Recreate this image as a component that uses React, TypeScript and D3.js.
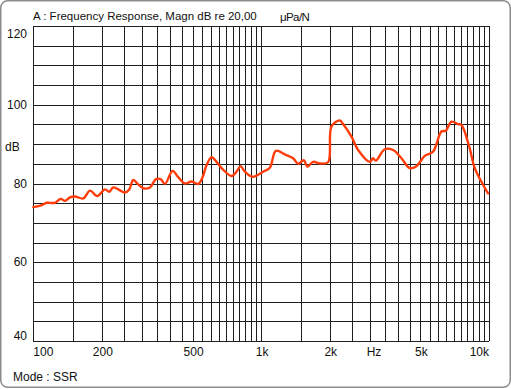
import React from "react";
import * as d3 from "d3";

const freqs = [100, 108.9, 114.5, 124.5, 131.9, 137.7, 144.9, 152.3, 165.7, 177.3, 190.9, 206.3, 215.4, 224.3, 236, 252.5, 263.7, 274.6, 285.9, 303.7, 325, 345.3, 362.2, 378.2, 408.8, 432.5, 462.8, 495.1, 529.2, 553.3, 576.1, 606, 626.4, 670.5, 741.7, 780.1, 812.2, 848.3, 917, 1020, 1092, 1160, 1270, 1382, 1453, 1539, 1595, 1690, 1809, 1967, 2036, 2214, 2288, 2492, 2664, 2998, 3099, 3185, 3487, 3793, 4129, 4489, 4803, 5224, 5682, 6183, 6459, 6842, 7311, 7565, 8231, 8658, 9900];
const magnDb = [74.0, 74.5, 75.1, 75.1, 76.1, 75.6, 76.5, 76.7, 76.2, 78.2, 76.8, 78.5, 77.9, 79.0, 78.5, 77.7, 78.5, 80.9, 80.0, 78.8, 79.0, 81.1, 81.1, 79.9, 83.2, 81.6, 80.0, 80.5, 79.9, 81.6, 84.7, 86.7, 86.0, 83.9, 81.9, 83.0, 84.4, 83.0, 81.7, 83.0, 84.0, 88.3, 87.4, 86.4, 85.0, 85.9, 84.3, 85.5, 85.1, 85.4, 94.5, 96.0, 95.1, 91.9, 88.5, 85.5, 86.4, 85.8, 88.7, 88.5, 86.4, 83.9, 84.4, 87.0, 88.1, 93.2, 93.4, 95.7, 95.1, 94.9, 88.9, 83.9, 77.5];

const yTicks = [120, 100, 80, 60, 40];
const xTickLabels = [
  { f: 100, label: "100" },
  { f: 200, label: "200" },
  { f: 500, label: "500" },
  { f: 1000, label: "1k" },
  { f: 2000, label: "2k" },
  { f: 5000, label: "5k" },
  { f: 10000, label: "10k" },
];
const title = "A : Frequency Response, Magn dB re 20,00";
const unitText = "μPa/N";
const modeText = "Mode : SSR";

export default function App() {
  const W = 511, H = 389;
  const left = 33.3, right = 489, top = 26, bottom = 341;
  const x = d3.scaleLog().domain([100, 10000]).range([left, right]);
  const y = d3.scaleLinear().domain([40, 120]).range([bottom, top]);

  const vGrid: number[] = [];
  for (let f = 100; f <= 1000; f += 50) vGrid.push(f);
  for (let f = 1500; f <= 10000; f += 500) vGrid.push(f);
  const hGrid = d3.range(40, 121, 5);

  const pts: [number, number][] = freqs.map((f, i) => [f, magnDb[i]]);
  const line = d3
    .line<[number, number]>()
    .x((d) => x(d[0]))
    .y((d) => y(d[1]))
    .curve(d3.curveCatmullRom.alpha(0.5));

  const font = "'Liberation Sans', Arial, sans-serif";
  const snap = (v: number) => Math.round(v) + 0.5;

  return (
    <svg
      width={W}
      height={H}
      style={{ position: "absolute", left: 0, top: 0, background: "#fff" }}
      fontFamily={font}
    >
      <rect x={0.75} y={0.75} width={509.5} height={386.5} rx={7} ry={7} fill="#fff" stroke="#8c8c8c" strokeWidth={1.5} />
      <g stroke="#1e1e1e" strokeWidth={1} shapeRendering="crispEdges">
        {vGrid.map((f) => (
          <line key={"v" + f} x1={snap(x(f))} x2={snap(x(f))} y1={top} y2={bottom} />
        ))}
        {hGrid.map((v) => (
          <line key={"h" + v} x1={left} x2={right} y1={snap(y(v))} y2={snap(y(v))} />
        ))}
      </g>
      <path d={line(pts) || ""} fill="none" stroke="#ff3c0a" strokeWidth={2.4} strokeLinejoin="round" strokeLinecap="round" />
      <text x={33} y={20} fontSize={11.5} fill="#111">{title}</text>
      <text x={280} y={21} fontSize={11.5} fill="#111" letterSpacing={-0.6}>{unitText}</text>
      {yTicks.map((v) => {
        let cy = y(v) + 4;
        if (v === 120) cy = 38;
        if (v === 40) cy = 340;
        return (
          <text key={"yt" + v} x={27} y={cy} fontSize={12} textAnchor="end" fill="#111">
            {v}
          </text>
        );
      })}
      <text x={5} y={151} fontSize={12} fill="#111">dB</text>
      {xTickLabels.map((t, i) => (
        <text
          key={"xt" + t.f}
          x={i === 0 ? left : i === xTickLabels.length - 1 ? right : x(t.f) + 1}
          y={356}
          fontSize={12}
          textAnchor={i === 0 ? "start" : i === xTickLabels.length - 1 ? "end" : "middle"}
          fill="#111"
        >
          {t.label}
        </text>
      ))}
      <text x={374} y={356} fontSize={12} textAnchor="middle" fill="#111">Hz</text>
      <text x={13} y={381} fontSize={12} fill="#111">{modeText}</text>
    </svg>
  );
}
